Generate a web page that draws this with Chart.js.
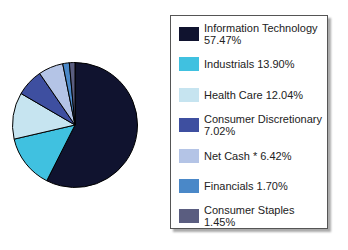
<!DOCTYPE html>
<html><head><meta charset="utf-8">
<script src="https://cdn.jsdelivr.net/npm/chart.js@4"></script>
<style>
html,body{margin:0;padding:0;background:#fff;width:348px;height:250px;overflow:hidden;font-family:"Liberation Sans",Arial,sans-serif;}
#pie{position:absolute;left:12px;top:62px;width:126px;height:126px;}
#legend{position:absolute;left:170px;top:15px;width:156px;height:212px;border:1px solid #555;box-shadow:3px 3px 2px #aaa;background:#fff;}
.item{position:absolute;left:0;width:156px;display:flex;align-items:center;transform:translateY(-50%);}
.sw{width:20px;height:14px;margin-left:8px;flex:none;}
.tx{margin-left:5px;width:118px;font-size:11px;line-height:12px;color:#222;}
</style></head><body>
<div id="pie"><canvas id="c"></canvas></div>
<div id="legend"></div>
<script>
const categories = ["Information Technology","Industrials","Health Care","Consumer Discretionary","Net Cash *","Financials","Consumer Staples"];
const values = [57.47,13.90,12.04,7.02,6.42,1.70,1.45];
const colors = ["#10132f","#40c1e0","#c6e4f0","#3e4fa0","#b4c4e6","#4a88c8","#5a5d80"];

const leg = document.getElementById('legend');
categories.forEach((c,i)=>{
  const it=document.createElement('div');it.className='item';
  it.style.top=(18+i*30.4)+'px';
  it.innerHTML='<div class="sw" style="background:'+colors[i]+'"></div><div class="tx">'+c+' '+values[i].toFixed(2)+'%</div>';
  leg.appendChild(it);
});

new Chart(document.getElementById('c'),{
  type:'pie',
  data:{labels:categories,datasets:[{data:values,backgroundColor:colors,borderColor:'#000',borderWidth:1}]},
  options:{responsive:true,maintainAspectRatio:false,animation:false,
    plugins:{legend:{display:false},tooltip:{enabled:false}},
    layout:{padding:0}}
});
</script>
</body></html>
